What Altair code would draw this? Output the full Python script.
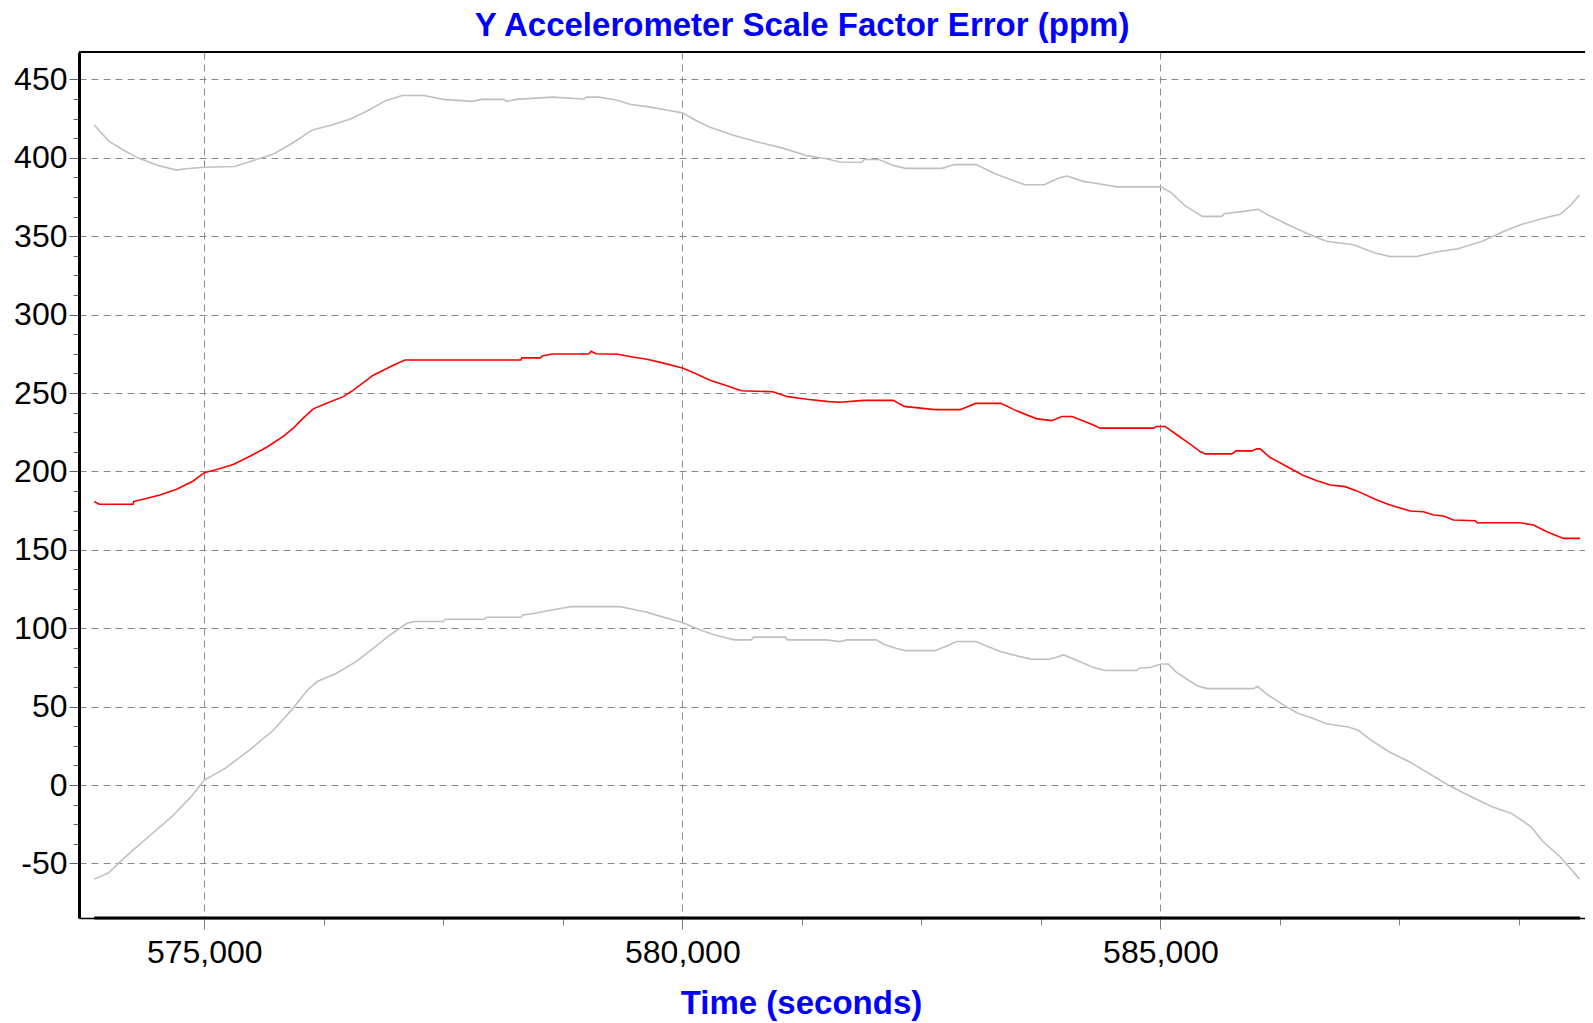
import altair as alt
import pandas as pd

TITLE = "Y Accelerometer Scale Factor Error (ppm)"
X_TITLE = "Time (seconds)"

# Upper bound (grey)
upper_t = [573849, 574001, 574153, 574305, 574508, 574711, 574812, 575000, 575319, 575522,
           575725, 575928, 576131, 576334, 576536, 576739, 576891, 577069, 577297, 577500,
           577804, 577906, 578134, 578159, 578261, 578641, 578971, 578996, 579123, 579300,
           579452, 579680, 579833, 580000, 580137, 580289, 580543, 580796, 581050, 581303,
           581506, 581648, 581876, 581901, 582054, 582207, 582334, 582716, 582843, 583072,
           583276, 583479, 583581, 583785, 583937, 584024, 584192, 584370, 584548, 585006,
           585108, 585261, 585439, 585642, 585668, 585846, 586024, 586126, 586330, 586533,
           586737, 587017, 587246, 587399, 587678, 587882, 588111, 588366, 588594, 588773,
           589027, 589180, 589282, 589383]
upper_v = [421.0, 410.7, 405.0, 400.0, 395.3, 392.2, 393.0, 394.0, 394.5, 398.4,
           402.5, 409.6, 417.8, 421.0, 425.0, 431.0, 436.3, 439.8, 439.8, 437.3,
           436.0, 437.3, 437.3, 436.0, 437.3, 438.7, 437.5, 438.7, 438.7, 437.0,
           434.2, 432.2, 430.5, 428.7, 424.0, 419.5, 414.3, 410.0, 406.2, 401.4,
           399.4, 397.3, 397.2, 398.9, 398.9, 395.1, 393.3, 393.3, 395.7, 395.7,
           389.7, 385.0, 382.8, 382.8, 387.1, 388.4, 385.0, 383.3, 381.5, 381.5,
           377.9, 369.3, 362.7, 362.7, 364.4, 365.7, 367.2, 363.5, 357.5, 351.7,
           346.8, 344.6, 339.3, 337.1, 337.1, 339.9, 342.0, 346.8, 353.2, 357.5,
           361.8, 364.0, 369.3, 376.2]

# Estimate (red)
est_t = [573849, 573902, 574257, 574262, 574362, 574537, 574711, 574885, 575000, 575130,
         575303, 575478, 575653, 575826, 575931, 576035, 576140, 576280, 576454, 576559,
         576768, 576977, 577099, 578058, 578311, 578320, 578514, 578540, 578641, 579021,
         579046, 579097, 579326, 579478, 579630, 579782, 580000, 580137, 580289, 580441,
         580619, 580948, 581100, 581303, 581531, 581648, 581897, 582205, 582320, 582640,
         582905, 583066, 583331, 583490, 583700, 583863, 583968, 584075, 584286, 584369,
         584927, 584960, 585049, 585171, 585311, 585415, 585467, 585747, 585790, 585956,
         586008, 586043, 586147, 586322, 586496, 586636, 586775, 586932, 587054, 587263,
         587402, 587611, 587751, 587856, 587960, 588065, 588292, 588310, 588762, 588901,
         589041, 589215, 589389]
est_v = [180.8, 179.1, 179.1, 180.8, 182.3, 185.0, 188.6, 193.9, 199.2, 201.3,
         204.4, 209.7, 215.4, 222.4, 227.6, 234.0, 239.9, 243.5, 247.7, 251.9,
         261.4, 267.7, 271.1, 271.1, 271.1, 272.4, 272.4, 273.8, 274.9, 274.9,
         276.6, 275.1, 274.7, 273.0, 271.5, 269.4, 266.0, 262.4, 258.2, 255.1,
         251.5, 250.8, 247.7, 246.0, 244.5, 244.1, 245.3, 245.3, 241.5, 239.4,
         239.4, 243.4, 243.4, 238.8, 233.7, 232.4, 235.0, 235.0, 229.9, 227.6,
         227.6, 228.7, 228.7, 223.4, 217.4, 212.7, 211.2, 211.2, 213.1, 213.1,
         214.4, 214.4, 208.9, 203.1, 197.4, 194.0, 191.4, 190.3, 187.6, 181.8,
         178.6, 174.8, 174.3, 172.2, 171.6, 169.0, 168.6, 167.3, 167.3, 165.8,
         161.5, 157.3, 157.3]

# Lower bound (grey)
lower_t = [573849, 574001, 574102, 574255, 574457, 574660, 574863, 575000, 575218, 575472,
           575725, 575928, 576080, 576182, 576384, 576587, 576790, 576942, 577120, 577196,
           577500, 577520, 577931, 577950, 578311, 578330, 578463, 578590, 578692, 578844,
           579351, 579478, 579630, 579782, 580000, 580188, 580340, 580543, 580720, 580745,
           581075, 581100, 581506, 581648, 581723, 582029, 582105, 582232, 582334, 582639,
           582767, 582868, 583072, 583174, 583327, 583530, 583657, 583836, 583912, 583988,
           584090, 584294, 584421, 584752, 584780, 584904, 585006, 585083, 585159, 585261,
           585388, 585490, 585973, 586014, 586126, 586279, 586431, 586584, 586737, 586966,
           587068, 587195, 587399, 587602, 587806, 588010, 588213, 588468, 588671, 588875,
           589002, 589180, 589383]
lower_v = [-60.0, -56.0, -50.0, -41.5, -30.9, -20.2, -7.4, 3.2, 10.6, 22.3,
           35.1, 48.9, 60.6, 66.0, 71.3, 78.7, 88.3, 95.7, 103.2, 104.3,
           104.3, 105.7, 105.7, 107.0, 107.0, 108.5, 109.6, 111.1, 112.3, 113.8,
           113.8, 112.1, 110.2, 107.4, 103.6, 98.9, 95.7, 92.6, 92.6, 94.3,
           94.3, 92.6, 92.6, 91.5, 92.6, 92.6, 89.8, 87.2, 85.7, 85.7,
           88.7, 91.5, 91.5, 88.9, 85.1, 81.9, 80.2, 80.2, 81.5, 83.0,
           80.4, 75.1, 73.0, 73.0, 74.5, 75.1, 77.2, 77.2, 72.3, 68.1,
           63.2, 61.5, 61.5, 62.8, 57.4, 51.3, 46.0, 42.8, 39.1, 37.0,
           34.9, 28.9, 20.9, 14.9, 7.4, 0.0, -6.4, -13.8, -18.1, -26.6,
           -36.2, -45.7, -60.0]

x_domain = [573690, 589440]
y_domain = [-84.8, 467.5]
y_tick_values = [-50 + 12.5 * i for i in range(41)]
x_tick_values = [575000 + 1250 * i for i in range(12)]

W, H = 1506, 866

rows = []
for name, ts, vs in [("upper", upper_t, upper_v), ("estimate", est_t, est_v), ("lower", lower_t, lower_v)]:
    for t, v in zip(ts, vs):
        rows.append({"series": name, "t": t, "v": v})
df = pd.DataFrame(rows)

FONT = "Liberation Sans"

x_scale = alt.Scale(domain=x_domain, nice=False, zero=False)
y_scale = alt.Scale(domain=y_domain, nice=False, zero=False)

x_axis = alt.Axis(
    values=x_tick_values,
    format=",d",
    labelExpr="datum.value % 5000 === 0 ? datum.label : ''",
    labelFont=FONT, labelFontSize=32, labelColor="black", labelPadding=8,
    labelFlush=False, labelOverlap=False,
    tickColor="#808080", tickWidth=1,
    tickSize={"condition": {"test": "datum.value % 5000 === 0", "value": 11}, "value": 7},
    grid=True, gridColor="#8a8a8a", gridDash=[7, 5], gridWidth=1,
    gridOpacity={"condition": {"test": "datum.value % 5000 === 0", "value": 1}, "value": 0},
    domainColor="black", domainWidth=1.5,
    title=X_TITLE, titleFont=FONT, titleFontSize=33, titleFontWeight="bold",
    titleColor="#0000ff", titleX=722, titleY=95, titleBaseline="alphabetic",
    titleAlign="center",
)
y_axis = alt.Axis(
    values=y_tick_values,
    labelExpr="datum.value % 50 === 0 ? '' + datum.value : ''",
    labelFont=FONT, labelFontSize=32, labelColor="black", labelPadding=2,
    labelFlush=False, labelOverlap=False,
    tickColor="#606060", tickWidth=1,
    tickSize={"condition": {"test": "datum.value % 50 === 0", "value": 10}, "value": 6},
    grid=True, gridColor="#8a8a8a", gridDash=[7, 5], gridWidth=1,
    gridOpacity={"condition": {"test": "datum.value % 50 === 0", "value": 1}, "value": 0},
    domainColor="black", domainWidth=3,
    title=None,
)

lines = alt.Chart(df).mark_line(strokeWidth=1.6, interpolate="linear").encode(
    x=alt.X("t:Q", scale=x_scale, axis=x_axis),
    y=alt.Y("v:Q", scale=y_scale, axis=y_axis),
    color=alt.Color("series:N", scale=alt.Scale(domain=["upper", "estimate", "lower"],
                                                range=["#c0c0c0", "#ff0000", "#c0c0c0"]),
                    legend=None),
    detail="series:N",
    order="t:Q",
)

data_range = alt.Chart(df).mark_rule(color="black", strokeWidth=3).encode(
    x=alt.X("min(t):Q", scale=x_scale, axis=x_axis),
    x2="max(t):Q",
    y=alt.value(H),
)

top_border = alt.Chart(alt.Data(values=[{}])).mark_rule(color="black", strokeWidth=2).encode(
    x=alt.value(0), x2=alt.value(W), y=alt.value(0)
)

chart = alt.layer(lines, data_range, top_border).properties(
    width=W, height=H,
    padding={"left": 71, "top": 44, "right": 0, "bottom": 104},
    autosize=alt.AutoSizeParams(type="none"),
    title=alt.Title(TITLE, font=FONT, fontSize=33, fontWeight="bold", color="#0000ff",
                    anchor="middle", frame="group", dx=-30, offset=8),
).configure_view(stroke=None).configure(background="white")

chart.save("out.html", embed_options={"renderer": "svg", "actions": False})
